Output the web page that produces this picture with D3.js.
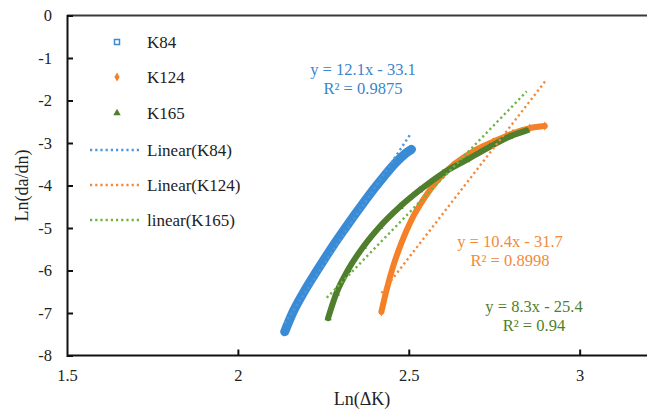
<!DOCTYPE html>
<html><head><meta charset="utf-8">
<script src="https://cdn.jsdelivr.net/npm/d3@7/dist/d3.min.js"></script>
<style>
html,body{margin:0;padding:0;background:#fff;}
text{font-family:"Liberation Serif","Times New Roman",serif;}
</style></head>
<body><svg id="c" width="647" height="412"></svg>
<script>
const xTicks = [1.5, 2, 2.5, 3];
const yTicks = [0, -1, -2, -3, -4, -5, -6, -7, -8];

const k84X = [2.137,2.16,2.19,2.22,2.25,2.28,2.31,2.34,2.37,2.40,2.43,2.46,2.49,2.508];
const k84Y = [-7.44,-7.0,-6.55,-6.15,-5.77,-5.4,-5.05,-4.71,-4.38,-4.06,-3.76,-3.48,-3.25,-3.15];

const k124X = [2.42,2.435,2.454,2.478,2.508,2.542,2.581,2.63,2.688,2.747,2.805,2.854,2.898];
const k124Y = [-6.97,-6.46,-5.91,-5.36,-4.81,-4.34,-3.91,-3.52,-3.20,-2.97,-2.77,-2.65,-2.60];

const k165X = [2.264,2.288,2.322,2.367,2.415,2.474,2.532,2.60,2.669,2.737,2.795,2.844];
const k165Y = [-7.12,-6.54,-5.99,-5.44,-4.97,-4.50,-4.11,-3.71,-3.40,-3.09,-2.85,-2.71];

// trend line fits: slope, intercept, x-range
const fitSlopes = [12.1, 10.4, 8.3];
const fitIntercepts = [-33.1, -31.7, -25.4];
const fitX0 = [2.137, 2.42, 2.26];
const fitX1 = [2.505, 2.9, 2.845];
const eqLabels = [["y = 12.1x - 33.1","R² = 0.9875"],["y = 10.4x - 31.7","R² = 0.8998"],["y = 8.3x - 25.4","R² = 0.94"]];
const seriesNames = ["K84","K124","K165"];
const trendNames = ["Linear(K84)","Linear(K124)","linear(K165)"];

const ptColors = ["#3a8bd6","#f58027","#4f7f2c"];
const lineColors = ["#4c97dc","#f28a3a","#6fb345"];
const eqColors = ["#3a84cc","#f28a3a","#4f7f2c"];

const svg = d3.select("#c");
const x = d3.scaleLinear().domain([1.5, 3.2]).range([67, 648]);
const y = d3.scaleLinear().domain([-8, 0]).range([355.5, 15.5]);
const fmt = d => String(d);

// top border
svg.append("line").attr("x1", x(1.5)).attr("x2", 647).attr("y1", y(0)).attr("y2", y(0))
  .attr("stroke", "#3a3a3a").attr("stroke-width", 2);

const xa = svg.append("g").attr("transform", `translate(0,${y(-8)})`)
  .call(d3.axisBottom(x).tickValues(xTicks).tickSize(-6).tickPadding(14).tickFormat(fmt));
const ya = svg.append("g").attr("transform", `translate(${x(1.5)},0)`)
  .call(d3.axisLeft(y).tickValues(yTicks).tickSize(-6).tickPadding(15).tickFormat(fmt));
[xa, ya].forEach(a => {
  a.select(".domain").attr("stroke", "#111").attr("stroke-width", 2);
  a.selectAll(".tick line").attr("stroke", "#111").attr("stroke-width", 2);
  a.selectAll(".tick text").attr("font-size", 16.5).attr("fill", "#222")
   .style("font-family", "'Liberation Serif', serif");
});
xa.selectAll(".tick").filter(d => d === 1.5).select("line").remove();
ya.selectAll(".tick").filter(d => d === 0 || d === -8).select("line").remove();
xa.select(".domain").attr("d", `M${x(1.5)},0H647`);

svg.append("text").attr("x", 362).attr("y", 405).attr("text-anchor", "middle")
  .attr("font-size", 18).attr("fill", "#222").text("Ln(ΔK)");
svg.append("text").attr("transform", `translate(28,${y(-4)}) rotate(-90)`).attr("text-anchor", "middle")
  .attr("font-size", 18).attr("fill", "#222").text("Ln(da/dn)");

const series = [[k84X, k84Y], [k124X, k124Y], [k165X, k165Y]];
const line = d3.line().x(d => x(d[0])).y(d => y(d[1])).curve(d3.curveMonotoneX);
const bandW = [9, 6, 6];
const sym = [d3.symbolSquare, d3.symbolDiamond, d3.symbolTriangle];

series.forEach((s, i) => {
  const pts = s[0].map((v, j) => [v, s[1][j]]);
  svg.append("path").datum(pts).attr("d", line).attr("fill", "none")
    .attr("stroke", ptColors[i]).attr("stroke-width", bandW[i]).attr("stroke-linecap", "round");
  svg.append("g").selectAll("path").data(pts).join("path")
    .attr("transform", d => `translate(${x(d[0])},${y(d[1])})`)
    .attr("d", d3.symbol().type(sym[i]).size(24)).attr("fill", ptColors[i]);
});

// trend lines
fitSlopes.forEach((m, i) => {
  const pts = [fitX0[i], fitX1[i]].map(v => [v, m * v + fitIntercepts[i]]);
  svg.append("path").datum(pts).attr("d", d3.line().x(d => x(d[0])).y(d => y(d[1])))
    .attr("stroke", lineColors[i]).attr("stroke-width", 2.4).attr("fill", "none")
    .attr("stroke-dasharray", "2.2 3").attr("stroke-linecap", "butt");
});

// equation labels
const eqPos = [[363, 75], [510, 247], [534, 312]];
eqLabels.forEach((l, i) => {
  l.forEach((t, j) => {
    svg.append("text").attr("x", eqPos[i][0]).attr("y", eqPos[i][1] + j * 19)
      .attr("text-anchor", "middle").attr("font-size", 16.5).attr("fill", eqColors[i]).text(t);
  });
});

// legend
const legY = [42, 77, 113, 150, 185, 220];
seriesNames.forEach((n, i) => {
  const g = svg.append("g").attr("transform", `translate(117,${legY[i]})`);
  if (i === 0) {
    g.append("rect").attr("x", -2.5).attr("y", -2.5).attr("width", 5).attr("height", 5)
      .attr("fill", "#fff").attr("stroke", ptColors[0]).attr("stroke-width", 1.5);
  } else {
    g.append("path").attr("d", d3.symbol().type(sym[i]).size(24)).attr("fill", ptColors[i]);
  }
  svg.append("text").attr("x", 147).attr("y", legY[i] + 6).attr("font-size", 17)
    .attr("fill", "#222").text(n);
});
trendNames.forEach((n, i) => {
  const yy = legY[i + 3];
  svg.append("line").attr("x1", 90).attr("x2", 139).attr("y1", yy).attr("y2", yy)
    .attr("stroke", lineColors[i]).attr("stroke-width", 2.4).attr("stroke-dasharray", "2.2 3");
  svg.append("text").attr("x", 147).attr("y", yy + 6).attr("font-size", 17)
    .attr("fill", "#222").text(n);
});
</script></body></html>
